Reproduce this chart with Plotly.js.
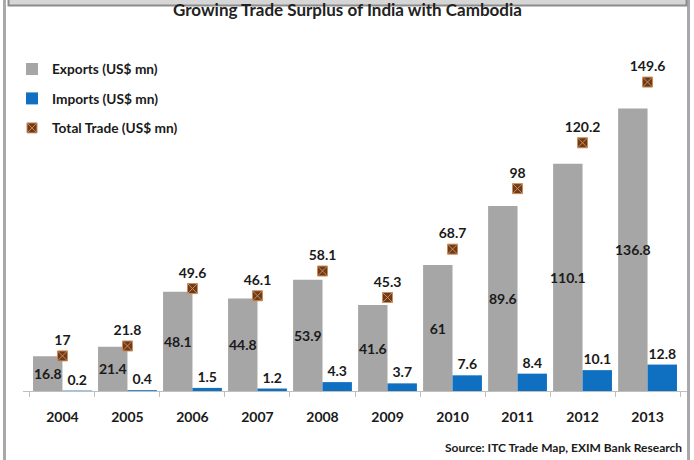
<!DOCTYPE html>
<html>
<head>
<meta charset="utf-8">
<script src="https://cdn.plot.ly/plotly-3.0.1.min.js"></script>
<style>html,body{margin:0;padding:0;background:#fff;}#chart{width:694px;height:460px;}</style>
</head>
<body>
<div id="chart"></div>
<script>
const years = ['2004','2005','2006','2007','2008','2009','2010','2011','2012','2013'];
const exportsUSD = [16.8, 21.4, 48.1, 44.8, 53.9, 41.6, 61, 89.6, 110.1, 136.8];
const importsUSD = [0.2, 0.4, 1.5, 1.2, 4.3, 3.7, 7.6, 8.4, 10.1, 12.8];
const totalTrade = [17, 21.8, 49.6, 46.1, 58.1, 45.3, 68.7, 98, 120.2, 149.6];
const seriesNames = ['Exports (US$ mn)', 'Imports (US$ mn)', 'Total Trade (US$ mn)'];
const chartTitle = 'Growing Trade Surplus of India with Cambodia';
const sourceNote = 'Source: ITC Trade Map, EXIM Bank Research';

const W = 694, H = 460;
const M = {l: 23, r: 7, t: 20, b: 69, autoexpand: false};
const pw = W - M.l - M.r, ph = H - M.t - M.b;
const px = x => (x - M.l) / pw;
const py = y => (H - M.b - y) / ph;

const FONT = 'Lato, "Open Sans", sans-serif';
const labelFont = {family: FONT, size: 14, color: '#1a1a1a', weight: 'bold'};

const traces = [
  {
    type: 'bar', name: seriesNames[0], x: years, y: exportsUSD,
    marker: {color: '#a6a6a6'},
    text: exportsUSD.map(String), textposition: 'inside', insidetextanchor: 'middle',
    textangle: 0, constraintext: 'none', textfont: labelFont, insidetextfont: labelFont,
    legend: 'legend', hoverinfo: 'x+y'
  },
  {
    type: 'bar', name: seriesNames[1], x: years, y: importsUSD,
    marker: {color: '#0f6fc0'},
    text: importsUSD.map(String), textposition: 'outside',
    textangle: 0, constraintext: 'none', textfont: labelFont, outsidetextfont: labelFont,
    cliponaxis: false, legend: 'legend2', hoverinfo: 'x+y'
  },
  {
    type: 'scatter', mode: 'markers+text', name: seriesNames[2], x: years, y: totalTrade,
    marker: {symbol: 'square-x', size: 10, color: '#6e3a18', line: {color: '#c98e5e', width: 1}},
    text: totalTrade.map(String), textposition: 'top center', textfont: labelFont,
    cliponaxis: false, legend: 'legend3', hoverinfo: 'x+y'
  }
];

function legendAt(yPix) {
  return {
    xref: 'paper', yref: 'paper', x: px(12), y: py(yPix),
    xanchor: 'left', yanchor: 'middle', bgcolor: 'rgba(0,0,0,0)',
    font: {family: FONT, size: 13.7, color: '#1a1a1a', weight: 'bold'}
  };
}

const layout = {
  width: W, height: H,
  margin: M,
  paper_bgcolor: '#ffffff', plot_bgcolor: '#ffffff',
  barmode: 'group', bargap: 0.095, bargroupgap: 0,
  showlegend: true,
  legend: legendAt(69),
  legend2: legendAt(98.5),
  legend3: legendAt(128),
  xaxis: {
    type: 'category', tickson: 'boundaries', ticks: 'outside', ticklen: 5,
    tickcolor: '#bfbfbf', showline: true, linecolor: '#bfbfbf', linewidth: 1,
    showgrid: false, zeroline: false, ticklabelstandoff: 13,
    tickfont: labelFont, automargin: false
  },
  yaxis: {range: [0, ph / 2.065], visible: false, showgrid: false, zeroline: false, fixedrange: true, automargin: false},
  shapes: [
    {type: 'line', xref: 'paper', yref: 'paper', x0: px(4.5), x1: px(4.5), y0: py(0), y1: py(H), line: {color: '#a9a9a9', width: 3}},
    {type: 'line', xref: 'paper', yref: 'paper', x0: px(688.5), x1: px(688.5), y0: py(0), y1: py(H), line: {color: '#a9a9a9', width: 3}},
    {type: 'rect', xref: 'paper', yref: 'paper', x0: px(8.5), x1: px(686.5), y0: py(-4), y1: py(5.5), fillcolor: '#d6d6d6', line: {color: '#8c8c8c', width: 2}}
  ],
  annotations: [
    {xref: 'paper', yref: 'paper', x: px(347), y: py(10), xanchor: 'center', yanchor: 'middle', showarrow: false,
     text: chartTitle, font: {family: FONT, size: 17, color: '#222222', weight: 'bold'}},
    {xref: 'paper', yref: 'paper', x: px(684), y: py(447), xanchor: 'right', yanchor: 'middle', showarrow: false,
     text: sourceNote, font: {family: FONT, size: 12, color: '#1a1a1a', weight: 'bold'}}
  ]
};

Plotly.newPlot('chart', traces, layout, {displayModeBar: false, staticPlot: true});
</script>
</body>
</html>
